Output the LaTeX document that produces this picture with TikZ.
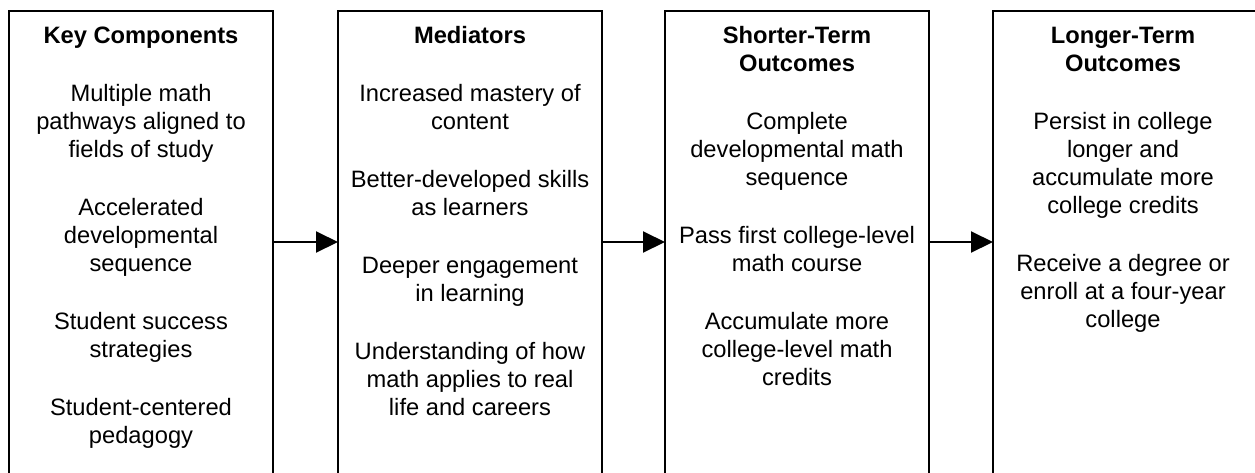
\documentclass[tikz,border=0pt]{standalone}
\usepackage{fontspec}
\setmainfont{Liberation Sans}
\usetikzlibrary{arrows.meta}
\begin{document}
\begin{tikzpicture}[x=1pt,y=-1pt,
  box/.style={draw=black, line width=2.4pt, outer sep=0pt, inner sep=0pt,
    minimum width=264pt, minimum height=520pt, anchor=north},
  txt/.style={anchor=base, inner sep=0pt, font=\fontsize{23.7}{28}\selectfont},
  ttl/.style={txt, font=\fontsize{23.7}{28}\selectfont\bfseries},
  arr/.style={line width=2pt, -{Triangle[length=22pt,width=21pt]}}]
\useasboundingbox (0,0) rectangle (1255,472);
\clip (0,0) rectangle (1255,472);
\fill[white] (0,0) rectangle (1255,472);
% boxes
\node[box] (b1) at (141,11) {};
\node[box] (b2) at (470,11) {};
\node[box] (b3) at (797,11) {};
\node[box] (b4) at (1125,11) {};
% arrows
\coordinate (row) at (0,242);
\draw[arr] (b1.east |- row) -- (b2.west |- row);
\draw[arr] (b2.east |- row) -- (b3.west |- row);
\draw[arr] (b3.east |- row) -- (b4.west |- row);
% titles
\node[ttl] (t1) at (141,43.5) {Key Components};
\node[ttl] (t2) at (470,43.5) {Mediators};
\node[ttl] (t3a) at (797,43.5) {Shorter-Term};
\node[ttl] (t3b) at (797,71.5) {Outcomes};
\node[ttl] (t4a) at (1123,43.5) {Longer-Term};
\node[ttl] (t4b) at (1123,71.5) {Outcomes};
% box 1
\foreach \t/\y [count=\i] in {Multiple math/101.5, pathways aligned to/129.5, fields of study/157.5,
  Accelerated/215.5, developmental/243.5, sequence/271.5,
  Student success/329.5, strategies/357.5,
  Student-centered/415.5, pedagogy/443.5}
  \node[txt] (a\i) at (141,\y) {\t};
% box 2
\foreach \t/\y [count=\i] in {Increased mastery of/101.5, content/129.5,
  Better-developed skills/187.5, as learners/215.5,
  Deeper engagement/273.5, in learning/301.5,
  Understanding of how/359.5, math applies to real/387.5, life and careers/415.5}
  \node[txt] (m\i) at (470,\y) {\t};
% box 3
\foreach \t/\y [count=\i] in {Complete/129.5, developmental math/157.5, sequence/185.5,
  Pass first college-level/243.5, math course/271.5,
  Accumulate more/329.5, college-level math/357.5, credits/385.5}
  \node[txt] (s\i) at (797,\y) {\t};
% box 4
\foreach \t/\y [count=\i] in {Persist in college/129.5, longer and/157.5, accumulate more/185.5, college credits/213.5,
  Receive a degree or/271.5, enroll at a four-year/299.5, college/327.5}
  \node[txt] (l\i) at (1123,\y) {\t};
\end{tikzpicture}
\end{document}
